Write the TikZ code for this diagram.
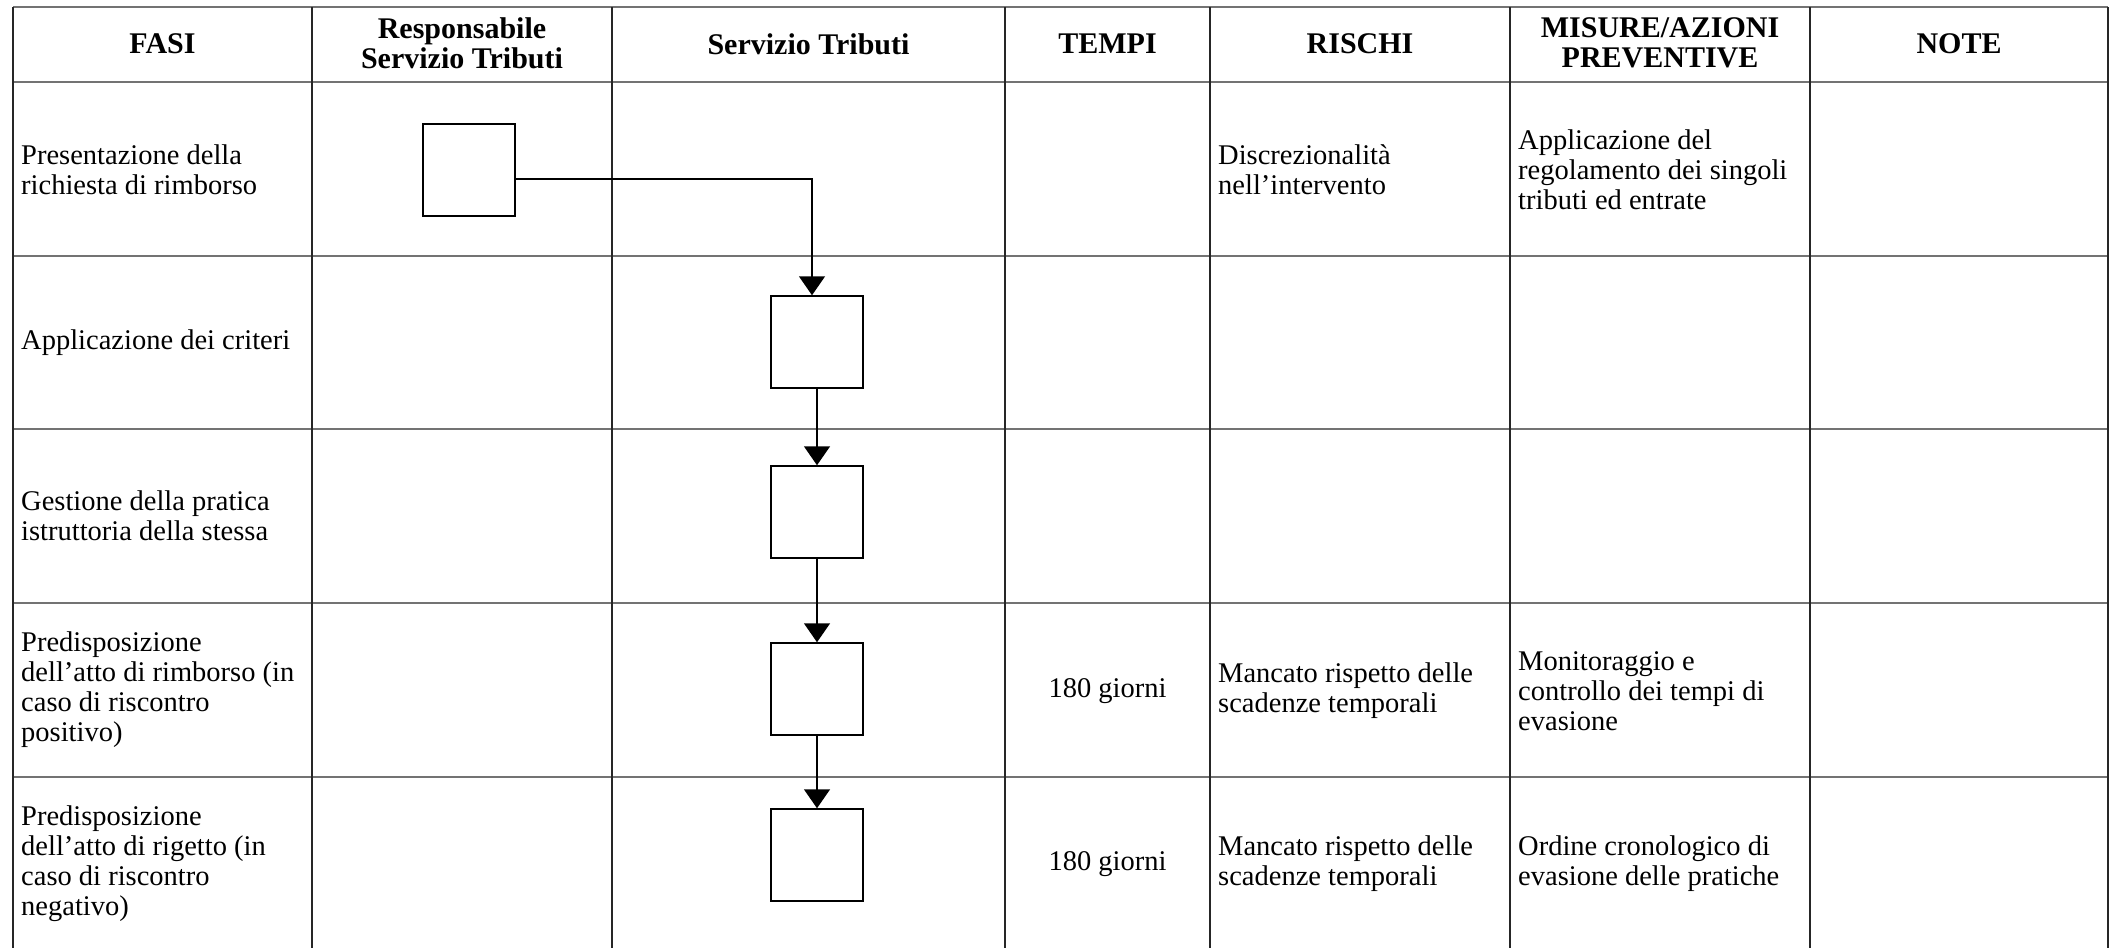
\documentclass[tikz,border=0pt]{standalone}
\usepackage{fontspec}
\setmainfont{Liberation Serif}
\usetikzlibrary{arrows.meta}
\begin{document}
\begin{tikzpicture}[x=1pt,y=-1pt,
  hline/.style={draw=black!55,line width=2pt},
  vline/.style={draw=black!85,line width=1.6pt},
  head/.style={font=\fontsize{30}{30}\selectfont\bfseries,align=center,inner sep=0pt},
  cell/.style={font=\fontsize{28.5}{30}\selectfont,align=left,anchor=west,inner sep=0pt},
  mid/.style={font=\fontsize{28.5}{30}\selectfont,align=center,inner sep=0pt},
  stepbox/.style={draw=black,line width=1.5pt,minimum width=92pt,minimum height=92pt,inner sep=0pt},
  flow/.style={draw=black,line width=1.5pt,-{Triangle[width=26pt,length=19pt]}}]
\useasboundingbox (0,0) rectangle (2116,948);

% table rules
\foreach \y in {7,82,256,429,603,777}
  \draw[hline] (13,\y) -- (2108,\y);
\foreach \x in {13,312,612,1005,1210,1510,1810,2108}
  \draw[vline] (\x,7) -- (\x,948);

% header
\node[head] (hfasi) at (162.5,44) {FASI};
\node[head] (hresp) at (462,43) {Responsabile\\Servizio Tributi};
\node[head] (hserv) at (808.5,44) {Servizio Tributi};
\node[head] (htempi) at (1107.5,44) {TEMPI};
\node[head] (hrischi) at (1360,44) {RISCHI};
\node[head] (hmisure) at (1660,43) {MISURE/AZIONI\\PREVENTIVE};
\node[head] (hnote) at (1959,44) {NOTE};

% phases
\node[cell] (f1) at (21,170) {Presentazione della\\richiesta di rimborso};
\node[cell] (f2) at (21,343) {Applicazione dei criteri};
\node[cell] (f3) at (21,516) {Gestione della pratica\\istruttoria della stessa};
\node[cell] (f4) at (21,690) {Predisposizione\\dell’atto di rimborso (in\\caso di riscontro\\positivo)};
\node[cell] (f5) at (21,864) {Predisposizione\\dell’atto di rigetto (in\\caso di riscontro\\negativo)};

% times
\node[mid] (t4) at (1107.5,691) {180 giorni};
\node[mid] (t5) at (1107.5,864) {180 giorni};

% risks
\node[cell] (r1) at (1218,170) {Discrezionalità\\nell’intervento};
\node[cell] (r4) at (1218,691) {Mancato rispetto delle\\scadenze temporali};
\node[cell] (r5) at (1218,864) {Mancato rispetto delle\\scadenze temporali};

% preventive measures
\node[cell] (m1) at (1518,170) {Applicazione del\\regolamento dei singoli\\tributi ed entrate};
\node[cell] (m4) at (1518,691) {Monitoraggio e\\controllo dei tempi di\\evasione};
\node[cell] (m5) at (1518,864) {Ordine cronologico di\\evasione delle pratiche};

% flow boxes
\node[stepbox] (b1) at (469,170) {};
\node[stepbox] (b2) at (817,342) {};
\node[stepbox] (b3) at (817,512) {};
\node[stepbox] (b4) at (817,689) {};
\node[stepbox] (b5) at (817,855) {};

% connectors
\draw[flow] ([yshift=-9pt]b1.east) -| ([xshift=-5pt]b2.north);
\draw[flow] (b2) -- (b3);
\draw[flow] (b3) -- (b4);
\draw[flow] (b4) -- (b5);
\end{tikzpicture}
\end{document}
